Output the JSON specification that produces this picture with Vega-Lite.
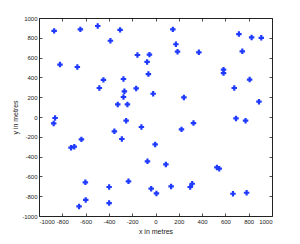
{
  "$schema": "https://vega.github.io/schema/vega-lite/v6.json",
  "width": 233,
  "height": 198,
  "autosize": {"type": "none"},
  "padding": {"left": 39, "top": 18, "right": 28, "bottom": 28},
  "background": "white",
  "config": {
    "view": {"stroke": "#222", "strokeWidth": 1},
    "axis": {
      "grid": false,
      "domain": false,
      "tickSize": -3,
      "tickColor": "#222",
      "tickWidth": 0.8,
      "labelFont": "Liberation Sans",
      "labelFontSize": 6,
      "labelColor": "#222",
      "labelPadding": 5,
      "labelOverlap": false,
      "labelBound": false,
      "titleFont": "Liberation Sans",
      "titleFontSize": 7,
      "titleFontWeight": "normal",
      "titleColor": "#222"
    }
  },
  "data": {
    "values": [
      {"x": -870, "y": 870}, {"x": -645, "y": 885}, {"x": -496, "y": 919}, {"x": -387, "y": 770},
      {"x": -820, "y": 530}, {"x": -671, "y": 505}, {"x": -447, "y": 375}, {"x": -304, "y": 880},
      {"x": 149, "y": 885}, {"x": 175, "y": 735}, {"x": 189, "y": 660}, {"x": -155, "y": 626},
      {"x": -52, "y": 630}, {"x": -72, "y": 556}, {"x": -61, "y": 434}, {"x": -275, "y": 384},
      {"x": 716, "y": 838}, {"x": 825, "y": 804}, {"x": 908, "y": 800}, {"x": 372, "y": 653},
      {"x": 745, "y": 663}, {"x": 584, "y": 478}, {"x": 584, "y": 444}, {"x": 808, "y": 378},
      {"x": -482, "y": 293}, {"x": -324, "y": 127}, {"x": -862, "y": -10}, {"x": -874, "y": -65},
      {"x": -353, "y": -145}, {"x": -636, "y": -226}, {"x": -725, "y": -310}, {"x": -697, "y": -300},
      {"x": -267, "y": 259}, {"x": -166, "y": 289}, {"x": -20, "y": 235}, {"x": 244, "y": 198},
      {"x": -275, "y": 202}, {"x": -241, "y": 127}, {"x": -252, "y": -37}, {"x": -121, "y": -101},
      {"x": 223, "y": -125}, {"x": 326, "y": -61}, {"x": -289, "y": -222}, {"x": -3, "y": -277},
      {"x": 676, "y": 293}, {"x": 888, "y": 155}, {"x": 691, "y": -14}, {"x": 773, "y": -37},
      {"x": -602, "y": -660}, {"x": -398, "y": -707}, {"x": -599, "y": -838}, {"x": -398, "y": -869},
      {"x": -656, "y": -903}, {"x": -69, "y": -448}, {"x": 89, "y": -479}, {"x": -232, "y": -650},
      {"x": -37, "y": -724}, {"x": 8, "y": -772}, {"x": 134, "y": -701}, {"x": 298, "y": -707},
      {"x": 315, "y": -674}, {"x": 527, "y": -509}, {"x": 547, "y": -522}, {"x": 665, "y": -775},
      {"x": 782, "y": -765}
    ]
  },
  "layer": [
    {
      "mark": {"type": "point", "shape": "cross", "filled": true, "size": 30, "color": "#1f3aff", "opacity": 1},
      "encoding": {
        "x": {"field": "x", "type": "quantitative", "scale": {"domain": [-1000, 1000], "nice": false},
          "axis": {"orient": "bottom", "title": "x in metres", "values": [-1000, -800, -600, -400, -200, 0, 200, 400, 600, 800, 1000], "titlePadding": 3, "labelExpr": "'' + datum.value"}},
        "y": {"field": "y", "type": "quantitative", "scale": {"domain": [-1000, 1000], "nice": false},
          "axis": {"orient": "left", "title": "y in metres", "values": [-1000, -800, -600, -400, -200, 0, 200, 400, 600, 800, 1000], "titlePadding": 3, "labelExpr": "'' + datum.value"}}
      }
    },
    {
      "mark": {"type": "point", "opacity": 0},
      "encoding": {
        "x": {"field": "x", "type": "quantitative", "scale": {"domain": [-1000, 1000], "nice": false},
          "axis": {"orient": "top", "title": null, "labels": false, "values": [-1000, -800, -600, -400, -200, 0, 200, 400, 600, 800, 1000]}},
        "y": {"field": "y", "type": "quantitative", "scale": {"domain": [-1000, 1000], "nice": false},
          "axis": {"orient": "right", "title": null, "labels": false, "values": [-1000, -800, -600, -400, -200, 0, 200, 400, 600, 800, 1000]}}
      }
    }
  ],
  "resolve": {"axis": {"x": "independent", "y": "independent"}}
}
